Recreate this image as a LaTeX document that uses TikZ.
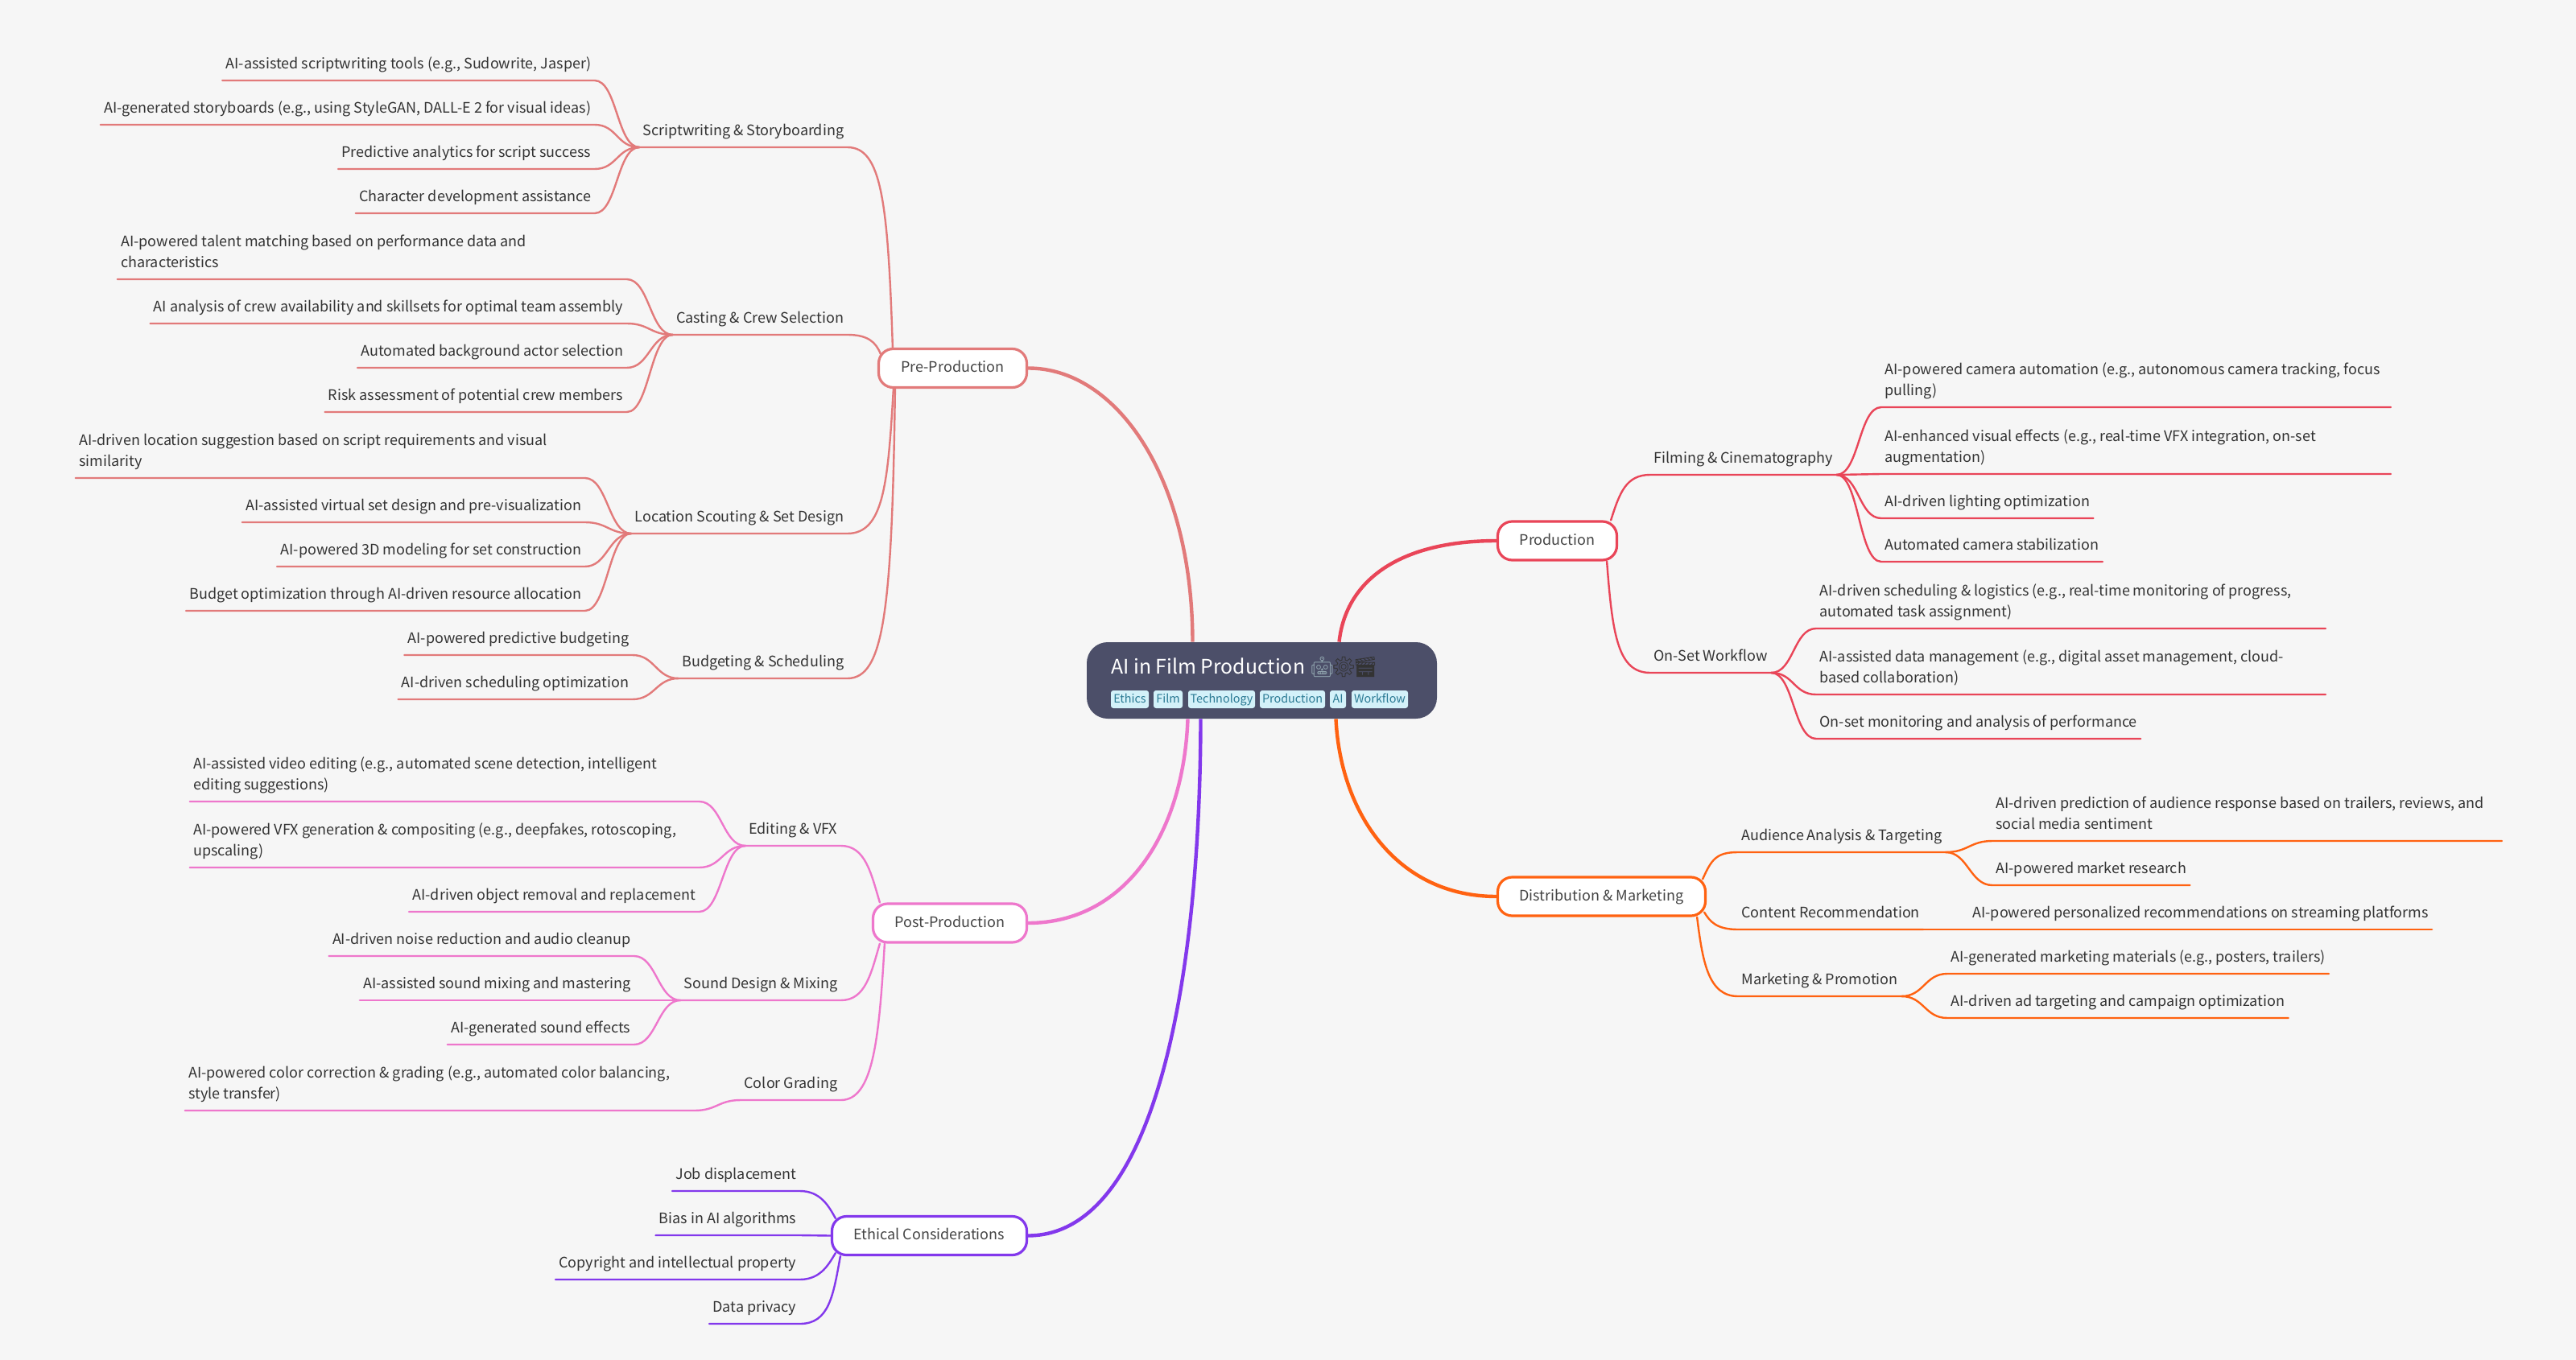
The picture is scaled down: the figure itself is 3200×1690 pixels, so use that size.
\documentclass[tikz,border=0pt]{standalone}
\usepackage{fontspec}
\setmainfont{Noto Sans CJK SC}
\newfontfamily\emojifont{Noto Emoji}
\definecolor{bgcol}{HTML}{F6F6F6}
\definecolor{rootcol}{HTML}{4C4F69}
\definecolor{tagcol}{HTML}{D3F1F9}
\definecolor{tagtext}{HTML}{2B7A94}
\definecolor{leaftext}{HTML}{333333}
\definecolor{boxtext}{HTML}{444444}
\definecolor{robotcol}{HTML}{90A4AE}
\definecolor{precol}{HTML}{E27A7A}
\definecolor{prodcol}{HTML}{E94558}
\definecolor{distcol}{HTML}{FF6211}
\definecolor{postcol}{HTML}{EE77CC}
\definecolor{ethcol}{HTML}{8338EC}
\tikzset{
  leaf/.style={inner xsep=2pt, inner ysep=4.5pt, text depth=2.5pt, text=leaftext,
    align=flush left, font=\fontsize{9}{13.25}\selectfont},
  leafl/.style={leaf, anchor=south east, xshift=.8pt},
  leafr/.style={leaf, anchor=south west},
  wide/.style={text width=312pt, text depth=15.75pt},
  branch/.style={draw=#1, fill=white, line width=1.6pt, rounded corners=9pt,
    minimum height=24pt, inner sep=0pt, text=boxtext, text height=7.5pt, text depth=2.5pt,
    font=\fontsize{9}{12}\selectfont},
  tag/.style={fill=tagcol, text=tagtext, rounded corners=1.5pt, inner sep=0pt,
    minimum height=11pt, text height=5.5pt, text depth=1.5pt,
    font=\fontsize{7.2}{9}\selectfont},
  link/.style={line width=1.2pt, line cap=round},
  trunk/.style={line width=2.2pt},
  toleft/.style={out=180, in=0, distance=14pt},
  toright/.style={out=0, in=180, distance=14pt}
}
\begin{document}
\begin{tikzpicture}[x=.5pt, y=-.5pt]
    \fill[bgcol] (0,0) rectangle (3200,1690);

    \node (root) at (1567.5,845.5) [fill=rootcol, rounded corners=13pt,
      minimum width=217.5pt, minimum height=47.5pt] {};
    \node (title) at (1376,837) [anchor=base west, inner sep=2pt, text=white,
      font=\fontsize{12.4}{15}\selectfont] {AI in Film Production
      {\fontsize{12.5}{12}\selectfont\emojifont\color{robotcol}🤖\kern-2.5pt\color{leaftext}⚙\kern-2.5pt\color{leaftext}🎬}};
    \node (t1) at (1403.5,869) [tag, minimum width=23.5pt] {Ethics};
    \node (t2) at (1451,869) [tag, minimum width=18pt] {Film};
    \node (t3) at (1517.5,869) [tag, minimum width=41.5pt] {Technology};
    \node (t4) at (1605.5,869) [tag, minimum width=40.5pt] {Production};
    \node (t5) at (1662,869) [tag, minimum width=10pt] {AI};
    \node (t6) at (1714,869) [tag, minimum width=35pt] {Workflow};

    \node (pre) at (1183.5,457.5) [branch=precol, minimum width=92pt] {Pre-Production};
    \node (post) at (1180,1147) [branch=postcol, minimum width=95.5pt] {Post-Production};
    \node (eth) at (1154.5,1535.5) [branch=ethcol, minimum width=121pt] {Ethical Considerations};
    \node (prod) at (1934.5,672) [branch=prodcol, minimum width=74pt] {Production};
    \node (dist) at (1989.5,1114) [branch=distcol, minimum width=129pt] {Distribution \& Marketing};

    \draw[trunk, precol] (pre.east) .. controls (1385,457) and (1481,590) .. ([xshift=-43pt]root.north);
    \draw[trunk, postcol] (post.east) .. controls (1395,1147) and (1470,1040) .. ([xshift=-46pt]root.south);
    \draw[trunk, ethcol] (eth.east) .. controls (1440,1535) and (1491,1200) .. ([xshift=-38pt]root.south);
    \draw[trunk, prodcol] (prod.west) .. controls (1740,672) and (1672,720) .. ([xshift=48pt]root.north);
    \draw[trunk, distcol] (dist.west) .. controls (1735,1114) and (1665,1010) .. ([xshift=46pt]root.south);

    \node (s1) at (1051,183) [leafl] {Scriptwriting \& Storyboarding};
    \node (s2) at (1051,416) [leafl] {Casting \& Crew Selection};
    \node (s3) at (1051,663) [leafl] {Location Scouting \& Set Design};
    \node (s4) at (1051,843) [leafl] {Budgeting \& Scheduling};
    \node (s1a) at (737,100) [leafl] {AI-assisted scriptwriting tools (e.g., Sudowrite, Jasper)};
    \node (s1b) at (737,155) [leafl] {AI-generated storyboards (e.g., using StyleGAN, DALL-E 2 for visual ideas)};
    \node (s1c) at (737,210) [leafl] {Predictive analytics for script success};
    \node (s1d) at (737,265) [leafl] {Character development assistance};
    \node (s2a) at (777,347) [leafl, wide] {AI-powered talent matching based on performance data and\\characteristics};
    \node (s2b) at (777,402) [leafl] {AI analysis of crew availability and skillsets for optimal team assembly};
    \node (s2c) at (777,457) [leafl] {Automated background actor selection};
    \node (s2d) at (777,512) [leafl] {Risk assessment of potential crew members};
    \node (s3a) at (725,594) [leafl, wide] {AI-driven location suggestion based on script requirements and visual\\similarity};
    \node (s3b) at (725,649) [leafl] {AI-assisted virtual set design and pre-visualization};
    \node (s3c) at (725,704) [leafl] {AI-powered 3D modeling for set construction};
    \node (s3d) at (725,759) [leafl] {Budget optimization through AI-driven resource allocation};
    \node (s4a) at (784,814) [leafl] {AI-powered predictive budgeting};
    \node (s4b) at (784,869) [leafl] {AI-driven scheduling optimization};

    \draw[link, precol] ([xshift=9.5pt]pre.north west) .. controls (1103,250) and (1095,183) .. (s1.south east) -- (s1.south west);
    \draw[link, precol] ([xshift=2pt,yshift=-4pt]pre.north west) .. controls (1088,425) and (1078,416) .. (s2.south east) -- (s2.south west);
    \draw[link, precol] ([xshift=10pt]pre.south west) .. controls (1103,600) and (1098,663) .. (s3.south east) -- (s3.south west);
    \draw[link, precol] ([xshift=11pt]pre.south west) .. controls (1108,760) and (1098,843) .. (s4.south east) -- (s4.south west);
    \foreach \from/\to in {s1/s1a,s1/s1b,s1/s1c,s1/s1d,s2/s2a,s2/s2b,s2/s2c,s2/s2d,s3/s3a,s3/s3b,s3/s3c,s3/s3d,s4/s4a,s4/s4b}
      \draw[link, precol] (\from.south west) to[toleft] (\to.south east) -- (\to.south west);

    \node (e1) at (1043,1051) [leafl] {Editing \& VFX};
    \node (e2) at (1043,1243) [leafl] {Sound Design \& Mixing};
    \node (e3) at (1043,1367) [leafl] {Color Grading};
    \node (e1a) at (867,996) [leafl, wide] {AI-assisted video editing (e.g., automated scene detection, intelligent\\editing suggestions)};
    \node (e1b) at (867,1078) [leafl, wide] {AI-powered VFX generation \& compositing (e.g., deepfakes, rotoscoping,\\upscaling)};
    \node (e1c) at (867,1133) [leafl] {AI-driven object removal and replacement};
    \node (e2a) at (786,1188) [leafl] {AI-driven noise reduction and audio cleanup};
    \node (e2b) at (786,1243) [leafl] {AI-assisted sound mixing and mastering};
    \node (e2c) at (786,1298) [leafl] {AI-generated sound effects};
    \node (e3a) at (861,1380) [leafl, wide] {AI-powered color correction \& grading (e.g., automated color balancing,\\style transfer)};

    \draw[link, postcol] ([xshift=5pt]post.north west) .. controls (1082,1085) and (1075,1051) .. (e1.south east) -- (e1.south west);
    \draw[link, postcol] ([xshift=5pt]post.south west) .. controls (1082,1210) and (1075,1243) .. (e2.south east) -- (e2.south west);
    \draw[link, postcol] ([xshift=8pt]post.south west) .. controls (1092,1290) and (1085,1367) .. (e3.south east) -- (e3.south west);
    \foreach \from/\to in {e1/e1a,e1/e1b,e1/e1c,e2/e2a,e2/e2b,e2/e2c,e3/e3a}
      \draw[link, postcol] (\from.south west) to[toleft] (\to.south east) -- (\to.south west);

    \node (h1) at (992,1480) [leafl] {Job displacement};
    \node (h2) at (992,1535) [leafl] {Bias in AI algorithms};
    \node (h3) at (992,1590) [leafl] {Copyright and intellectual property};
    \node (h4) at (992,1645) [leafl] {Data privacy};

    \draw[link, ethcol] ([xshift=3pt,yshift=-2pt]eth.north west) .. controls (1030,1500) and (1020,1480) .. (h1.south east) -- (h1.south west);
    \draw[link, ethcol] (eth.west) -- (h2.south east) -- (h2.south west);
    \draw[link, ethcol] ([xshift=3pt,yshift=2pt]eth.south west) .. controls (1030,1570) and (1020,1590) .. (h3.south east) -- (h3.south west);
    \draw[link, ethcol] ([xshift=6pt]eth.south west) .. controls (1035,1610) and (1030,1645) .. (h4.south east) -- (h4.south west);

    \node (p1) at (2050,590) [leafr] {Filming \& Cinematography};
    \node (p2) at (2050,836) [leafr] {On-Set Workflow};
    \node (p1a) at (2337,506) [leafr, wide] {AI-powered camera automation (e.g., autonomous camera tracking, focus\\pulling)};
    \node (p1b) at (2337,589) [leafr, wide] {AI-enhanced visual effects (e.g., real-time VFX integration, on-set\\augmentation)};
    \node (p1c) at (2337,644) [leafr] {AI-driven lighting optimization};
    \node (p1d) at (2337,698) [leafr] {Automated camera stabilization};
    \node (p2a) at (2256,781) [leafr, wide] {AI-driven scheduling \& logistics (e.g., real-time monitoring of progress,\\automated task assignment)};
    \node (p2b) at (2256,863) [leafr, wide] {AI-assisted data management (e.g., digital asset management, cloud-\\based collaboration)};
    \node (p2c) at (2256,918) [leafr] {On-set monitoring and analysis of performance};

    \draw[link, prodcol] ([xshift=-4.5pt]prod.north east) .. controls (2012,612) and (2020,590) .. (p1.south west) -- (p1.south east);
    \draw[link, prodcol] ([xshift=-7pt]prod.south east) .. controls (2003,790) and (2010,836) .. (p2.south west) -- (p2.south east);
    \foreach \from/\to in {p1/p1a,p1/p1b,p1/p1c,p1/p1d,p2/p2a,p2/p2b,p2/p2c}
      \draw[link, prodcol] (\from.south east) to[toright] (\to.south west) -- (\to.south east);

    \node (d1) at (2159,1059) [leafr] {Audience Analysis \& Targeting};
    \node (d2) at (2159,1155) [leafr] {Content Recommendation};
    \node (d3) at (2159,1238) [leafr] {Marketing \& Promotion};
    \node (d1a) at (2475,1045) [leafr, wide] {AI-driven prediction of audience response based on trailers, reviews, and\\social media sentiment};
    \node (d1b) at (2475,1100) [leafr] {AI-powered market research};
    \node (d2a) at (2446,1155) [leafr] {AI-powered personalized recommendations on streaming platforms};
    \node (d3a) at (2419,1210) [leafr] {AI-generated marketing materials (e.g., posters, trailers)};
    \node (d3b) at (2419,1265) [leafr] {AI-driven ad targeting and campaign optimization};

    \draw[link, distcol] ([xshift=-2.5pt,yshift=-2pt]dist.north east) .. controls (2126,1068) and (2132,1059) .. (d1.south west) -- (d1.south east);
    \draw[link, distcol] ([xshift=-1.5pt,yshift=3pt]dist.south east) .. controls (2124,1145) and (2132,1155) .. (d2.south west) -- (d2.south east);
    \draw[link, distcol] ([xshift=-6pt]dist.south east) .. controls (2115,1195) and (2122,1238) .. (d3.south west) -- (d3.south east);
    \foreach \from/\to in {d1/d1a,d1/d1b,d2/d2a,d3/d3a,d3/d3b}
      \draw[link, distcol] (\from.south east) to[toright] (\to.south west) -- (\to.south east);
  \end{tikzpicture}
\end{document}
